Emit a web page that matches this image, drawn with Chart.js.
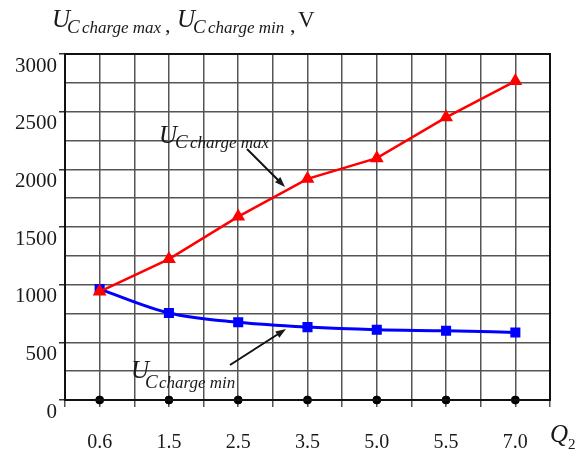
<!DOCTYPE html>
<html>
<head>
<meta charset="utf-8">
<script src="https://cdn.jsdelivr.net/npm/chart.js@4"></script>
<style>
  body { margin: 0; background: #fff; }
  #wrap { width: 582px; height: 455px; }
</style>
</head>
<body>
<div id="wrap"><canvas id="chart" width="582" height="455"></canvas></div>
<script>
// Q2 values shown under the axis
const q2Labels = ['0.6', '1.5', '2.5', '3.5', '5.0', '5.5', '7.0'];
// U C charge max, V (red, triangles)
const uMax = [940, 1222, 1590, 1918, 2097, 2451, 2765];
// U C charge min, V (blue, squares)
const uMin = [962, 755, 674, 632, 609, 600, 586];
// black dots sitting on the zero line
const zeroDots = [0, 0, 0, 0, 0, 0, 0];
const yTicks = [0, 500, 1000, 1500, 2000, 2500, 3000];

const SERIF = '"Liberation Serif", "DejaVu Serif", serif';

// each Q2 value gets two grid cells, so it sits on the odd lines
function toPoints(values) {
    return values.map((v, i) => ({ x: 2 * i + 1, y: v }));
}

// draws a piece of text: [text, x, y, size, italic]
function drawPieces(ctx, pieces) {
    pieces.forEach(p => {
        ctx.font = (p[4] ? 'italic ' : '') + p[3] + 'px ' + SERIF;
        ctx.fillText(p[0], p[1], p[2]);
    });
}

function drawArrow(ctx, x1, y1, x2, y2) {
    const ang = Math.atan2(y2 - y1, x2 - x1);
    const head = 11;
    ctx.beginPath();
    ctx.moveTo(x1, y1);
    ctx.lineTo(x2 - Math.cos(ang) * head * 0.8, y2 - Math.sin(ang) * head * 0.8);
    ctx.stroke();
    ctx.beginPath();
    ctx.moveTo(x2, y2);
    ctx.lineTo(x2 - head * Math.cos(ang - 0.35), y2 - head * Math.sin(ang - 0.35));
    ctx.lineTo(x2 - head * Math.cos(ang + 0.35), y2 - head * Math.sin(ang + 0.35));
    ctx.closePath();
    ctx.fill();
}

const extras = {
    id: 'extras',
    afterDraw(chart) {
        const ctx = chart.ctx;
        const a = chart.chartArea;
        ctx.save();
        // frame around the plot
        ctx.strokeStyle = '#111';
        ctx.lineWidth = 2;
        ctx.strokeRect(a.left, a.top, a.right - a.left, a.bottom - a.top);

        ctx.fillStyle = '#1a1a1a';
        ctx.textBaseline = 'alphabetic';
        ctx.textAlign = 'left';
        // y axis title
        drawPieces(ctx, [
            ['U', 52, 27, 25, true],
            ['C', 67, 33, 19, true],
            ['charge max', 82, 33, 17, true],
            [',', 165, 32, 22, false],
            ['U', 177, 27, 25, true],
            ['C', 193, 33, 19, true],
            ['charge min', 208, 33, 17, true],
            [',', 290, 32, 22, false],
            ['V', 298, 27, 23, false]
        ]);
        // x axis title
        drawPieces(ctx, [
            ['Q', 550, 442, 25, true],
            ['2', 568, 449, 15, false]
        ]);
        // series labels with arrows
        drawPieces(ctx, [
            ['U', 159, 143, 25, true],
            ['C', 175, 148, 19, true],
            ['charge max', 190, 148, 17, true],
            ['U', 131, 378, 25, true],
            ['C', 145, 388, 19, true],
            ['charge min', 159, 388, 17, true]
        ]);
        ctx.strokeStyle = '#111';
        ctx.lineWidth = 2;
        drawArrow(ctx, 247, 149, 285, 187);
        drawArrow(ctx, 230, 365, 286, 329);
        ctx.restore();
    }
};

new Chart(document.getElementById('chart'), {
    type: 'line',
    data: {
        datasets: [
            {
                label: 'U C charge max',
                data: toPoints(uMax),
                borderColor: '#ff0000',
                backgroundColor: '#ff0000',
                borderWidth: 2.5,
                pointStyle: 'triangle',
                pointRadius: 5.5,
                tension: 0
            },
            {
                label: 'U C charge min',
                data: toPoints(uMin),
                borderColor: '#0000ff',
                backgroundColor: '#0000ff',
                borderWidth: 3,
                pointStyle: 'rect',
                pointRadius: 5,
                cubicInterpolationMode: 'monotone'
            },
            {
                label: 'zero',
                data: toPoints(zeroDots),
                showLine: false,
                borderColor: '#000',
                backgroundColor: '#000',
                pointStyle: 'circle',
                pointRadius: 4
            }
        ]
    },
    options: {
        responsive: false,
        animation: false,
        clip: false,
        layout: { padding: { top: 54, right: 32, left: 0, bottom: 0 } },
        plugins: {
            legend: { display: false },
            tooltip: { enabled: false }
        },
        scales: {
            x: {
                type: 'linear',
                min: 0,
                max: 2 * q2Labels.length,
                afterBuildTicks(scale) {
                    const t = [];
                    for (let i = 0; i <= 2 * q2Labels.length; i++) t.push({ value: i });
                    scale.ticks = t;
                },
                afterFit(scale) { scale.height = 55; },
                ticks: {
                    autoSkip: false,
                    maxRotation: 0,
                    padding: 24,
                    color: '#1a1a1a',
                    font: { family: SERIF, size: 20 },
                    callback: v => (v % 2 === 1 ? q2Labels[(v - 1) / 2] : '')
                },
                grid: { color: '#555', lineWidth: 1.5, tickLength: 7, tickColor: '#555' },
                border: { display: true, color: '#111', width: 2 }
            },
            y: {
                min: yTicks[0],
                max: yTicks[yTicks.length - 1],
                afterBuildTicks(scale) {
                    const t = [];
                    for (let v = yTicks[0]; v <= yTicks[yTicks.length - 1]; v += 250) t.push({ value: v });
                    scale.ticks = t;
                },
                afterFit(scale) { scale.width = 65; },
                ticks: {
                    padding: 2,
                    labelOffset: 12,
                    color: '#1a1a1a',
                    font: { family: SERIF, size: 21 },
                    callback: v => (yTicks.includes(v) ? String(v) : '')
                },
                grid: {
                    color: '#555',
                    lineWidth: 1.5,
                    tickLength: 6,
                    tickColor: c => (c.tick && yTicks.includes(c.tick.value) ? '#333' : 'rgba(0,0,0,0)')
                },
                border: { display: true, color: '#111', width: 2 }
            }
        }
    },
    plugins: [extras]
});
</script>
</body>
</html>
